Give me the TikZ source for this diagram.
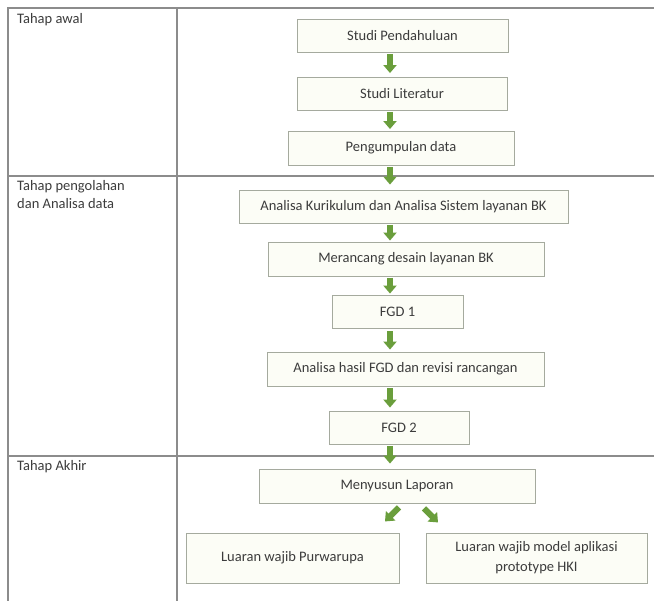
\documentclass[tikz,border=0pt]{standalone}
\usepackage{fontspec}
\setmainfont{Carlito}
\usetikzlibrary{arrows.meta}
\definecolor{tablegray}{RGB}{140,140,140}
\definecolor{boxgray}{RGB}{165,170,158}
\definecolor{boxfill}{RGB}{252,253,246}
\definecolor{txt}{RGB}{60,60,60}
\definecolor{arrgreen}{RGB}{106,158,60}
\begin{document}
\begin{tikzpicture}[x=1pt,y=-1pt,
  tline/.style={draw=tablegray, line width=1.2pt},
  box/.style={draw=boxgray, fill=boxfill, line width=0.9pt, inner sep=0pt,
    font=\fontsize{14.5}{20}\selectfont, text=txt, align=center},
  blk/.style={draw=arrgreen, line width=6pt, -{Triangle[width=13pt,length=8pt]}},
  lbl/.style={font=\fontsize{14.5}{18}\selectfont, text=txt, inner sep=0pt, anchor=base west}]
\useasboundingbox (0,0) rectangle (654,601);
\fill[white] (0,0) rectangle (654,601);
% table
\draw[tline] (8,601) -- (8,8) -- (654,8);
\draw[tline] (177,8) -- (177,601);
\draw[tline] (8,176) -- (654,176);
\draw[tline] (8,456) -- (654,456);
% stage labels
\node[lbl] (l1) at (17,24) {Tahap awal};
\node[lbl] (l2a) at (17,191) {Tahap pengolahan};
\node[lbl] (l2b) at (17,209) {dan Analisa data};
\node[lbl] (l3) at (17,471) {Tahap Akhir};
% boxes
\node[box, minimum width=211pt, minimum height=33pt] (b1) at (402.5,35.5) {Studi Pendahuluan};
\node[box, minimum width=210pt, minimum height=33pt] (b2) at (402,93.5) {Studi Literatur};
\node[box, minimum width=226pt, minimum height=34pt] (b3) at (401,148) {Pengumpulan data};
\node[box, minimum width=329pt, minimum height=33pt] (b4) at (403.5,206.5) {Analisa Kurikulum dan Analisa Sistem layanan BK};
\node[box, minimum width=276pt, minimum height=34pt] (b5) at (406,259) {Merancang desain layanan BK};
\node[box, minimum width=131pt, minimum height=33pt] (b6) at (397.5,311.5) {FGD 1};
\node[box, minimum width=277pt, minimum height=34pt] (b7) at (405.5,369) {Analisa hasil FGD dan revisi rancangan};
\node[box, minimum width=140pt, minimum height=33pt] (b8) at (399,427.5) {FGD 2};
\node[box, minimum width=276pt, minimum height=34pt] (b9) at (397,486) {Menyusun Laporan};
\node[box, minimum width=213pt, minimum height=50pt] (b10) at (292.5,558) {Luaran wajib Purwarupa};
\node[box, minimum width=221pt, minimum height=50pt] (b11) at (536.5,558) {Luaran wajib model aplikasi\\prototype HKI};
% arrows
\coordinate (ax) at (390,0);
\draw[blk, shorten <=1.5pt, shorten >=3.5pt] (b1.south -| ax) -- (b2.north -| ax);
\draw[blk, shorten <=1.5pt, shorten >=1.5pt] (b2.south -| ax) -- (b3.north -| ax);
\draw[blk, shorten <=1.5pt, shorten >=5pt] (b3.south -| ax) -- (b4.north -| ax);
\draw[blk, shorten <=1.5pt, shorten >=1pt] (b4.south -| ax) -- (b5.north -| ax);
\draw[blk, shorten <=1.5pt, shorten >=1pt] (b5.south -| ax) -- (b6.north -| ax);
\draw[blk, shorten <=3pt, shorten >=2pt] (b6.south -| ax) -- (b7.north -| ax);
\draw[blk, shorten <=2pt, shorten >=3pt] (b7.south -| ax) -- (b8.north -| ax);
\draw[blk, shorten <=2pt, shorten >=5pt] (b8.south -| ax) -- (b9.north -| ax);
\draw[blk] ([xshift=2pt,yshift=-4pt]b9.south) -- ++(-14,14);
\draw[blk] ([xshift=27pt,yshift=-5pt]b9.south) -- ++(14,14);
\end{tikzpicture}
\end{document}
